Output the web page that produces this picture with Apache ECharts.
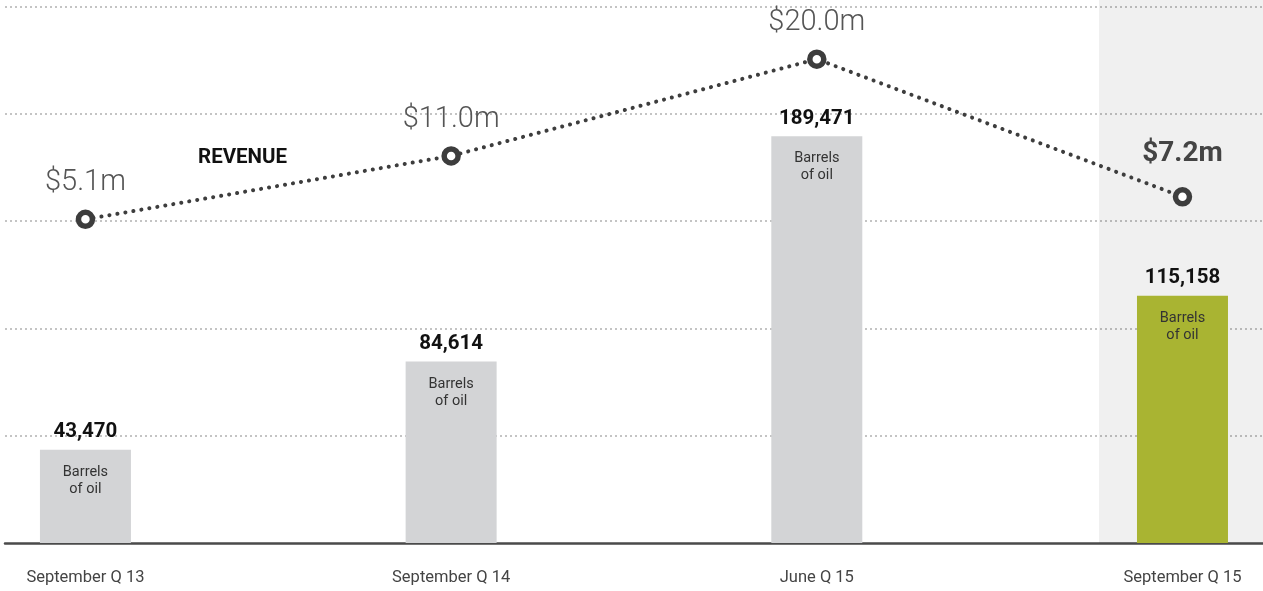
<!DOCTYPE html>
<html>
<head>
<meta charset="utf-8">
<script src="https://cdn.jsdelivr.net/npm/echarts@6/dist/echarts.min.js"></script>
<style>
  html, body { margin: 0; padding: 0; background: #fff; }
  #chart { width: 1263px; height: 591px; }
</style>
</head>
<body>
<div id="chart"></div>
<script>
// oil output (bars) and revenue (dotted line) per quarter
const categories = ['September Q 13', 'September Q 14', 'June Q 15', 'September Q 15'];
const barrels = [43470, 84614, 189471, 115158];
const revenue = [5.1, 11.0, 20.0, 7.2];
const revenueLabels = ['$5.1m', '$11.0m', '$20.0m', '$7.2m'];
const highlightIndex = 3;

const FONT = 'Roboto, "DejaVu Sans", sans-serif';
const GREY = '#d3d4d6';
const GREEN = '#a9b432';
const DARK = '#3d3d3d';

const chart = echarts.init(document.getElementById('chart'));

const option = {
  animation: false,
  textStyle: { fontFamily: FONT },
  grid: { left: 5, right: 0, top: 0, bottom: 48 },
  graphic: [{
    type: 'text',
    left: 198,
    top: 147,
    style: { text: 'REVENUE', font: 'bold 20.5px ' + FONT, fill: '#111' }
  }],
  xAxis: {
    type: 'value',
    min: -0.22,
    max: 3.2202,
    splitLine: { show: false },
    axisTick: { show: false },
    axisLine: { show: true, onZero: false, lineStyle: { color: '#4a4a4a', width: 2.5 } },
    axisLabel: {
      customValues: [0, 1, 2, 3],
      formatter: v => categories[Math.round(v)],
      margin: 26,
      fontSize: 16.5,
      color: '#444'
    }
  },
  yAxis: [{
    type: 'value',
    min: 0,
    max: 253000,
    interval: 50000,
    axisLine: { show: false },
    axisTick: { show: false },
    axisLabel: { show: false },
    splitLine: {
      show: true,
      showMinLine: false,
      showMaxLine: false,
      lineStyle: { color: '#c4c4c4', width: 2, type: [2, 3] }
    }
  }, {
    type: 'value',
    min: -25,
    max: 25.5,
    show: false,
    splitLine: { show: false }
  }],
  series: [{
    name: 'Barrels',
    type: 'bar',
    barWidth: 91,
    data: barrels.map((v, i) => ({
      value: [i, v],
      itemStyle: { color: i === highlightIndex ? GREEN : GREY }
    })),
    label: {
      show: true,
      position: 'top',
      distance: 7,
      formatter: p => p.value[1].toLocaleString('en-US'),
      fontSize: 20.5,
      fontWeight: 'bold',
      color: '#111'
    },
    markArea: {
      silent: true,
      itemStyle: { color: 'rgba(0,0,0,0.06)' },
      data: [[{ xAxis: 2.7716 }, { xAxis: 3.2202 }]]
    }
  }, {
    // transparent twin of the bars, only carries the inner caption
    name: 'caption',
    type: 'bar',
    barWidth: 91,
    barGap: '-100%',
    silent: true,
    itemStyle: { color: 'rgba(0,0,0,0)' },
    data: barrels.map((v, i) => [i, v]),
    label: {
      show: true,
      position: 'insideTop',
      distance: 14,
      formatter: 'Barrels\nof oil',
      fontSize: 14.5,
      lineHeight: 17,
      color: '#333'
    }
  }, {
    name: 'Revenue',
    type: 'line',
    yAxisIndex: 1,
    z: 5,
    symbol: 'circle',
    symbolSize: 14,
    itemStyle: { color: '#fff', borderColor: DARK, borderWidth: 5.5 },
    lineStyle: { color: DARK, width: 4, type: [0.1, 8], cap: 'round' },
    data: revenue.map((v, i) => {
      const item = { value: [i, v] };
      if (i === highlightIndex) {
        item.label = { fontWeight: 'bold', fontSize: 28, color: '#444', distance: 19 };
      }
      return item;
    }),
    label: {
      show: true,
      position: 'top',
      distance: 12,
      formatter: p => revenueLabels[p.dataIndex],
      fontSize: 29,
      fontWeight: 300,
      color: '#555'
    }
  }]
};

chart.setOption(option);
</script>
</body>
</html>
